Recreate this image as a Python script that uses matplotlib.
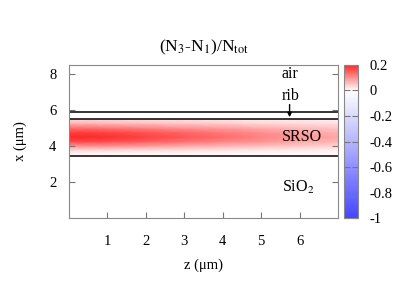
import matplotlib
matplotlib.use('Agg')
import matplotlib.pyplot as plt
import numpy as np
from matplotlib.colors import LinearSegmentedColormap, Normalize

plt.rcParams['font.family'] = ['Liberation Serif', 'DejaVu Serif']
plt.rcParams['font.size'] = 10.5
plt.rcParams['mathtext.fontset'] = 'stix'

# grid (z across, x up)
z = [0, 0.5, 1, 2, 3, 4, 5, 6, 7]
x = [3.5, 3.75, 4.0, 4.25, 4.5, 4.75, 5.0, 5.25, 5.5]
ratio = [
    [0.000, 0.000, 0.000, 0.000, 0.000, 0.000, 0.000, 0.000, 0.000],
    [0.030, 0.030, 0.030, 0.026, 0.023, 0.020, 0.017, 0.014, 0.012],
    [0.100, 0.100, 0.098, 0.088, 0.078, 0.068, 0.058, 0.048, 0.040],
    [0.170, 0.170, 0.166, 0.149, 0.132, 0.115, 0.098, 0.081, 0.068],
    [0.200, 0.200, 0.195, 0.175, 0.155, 0.135, 0.115, 0.095, 0.080],
    [0.180, 0.180, 0.176, 0.158, 0.140, 0.122, 0.104, 0.086, 0.072],
    [0.130, 0.130, 0.127, 0.114, 0.101, 0.088, 0.075, 0.062, 0.052],
    [0.070, 0.070, 0.068, 0.061, 0.054, 0.047, 0.040, 0.033, 0.028],
    [0.030, 0.030, 0.030, 0.026, 0.023, 0.020, 0.017, 0.014, 0.012],
]

layers = [5.9, 5.5, 3.45]
labels = ['air', 'rib', 'SRSO', 'SiO$_2$']
label_x = [8.0, 6.8, 4.5, 1.7]
cb_ticks = [0.2, 0, -0.2, -0.4, -0.6, -0.8, -1]

cmap = LinearSegmentedColormap.from_list(
    'bwr2', [(0.0, '#4646ff'), (1 / 1.2, '#ffffff'), (1.0, '#ff2a2a')])
norm = Normalize(vmin=-1, vmax=0.2)

fig = plt.figure(figsize=(4.07, 2.85), dpi=100)
ax = fig.add_axes([0.1695, 0.235, 0.661, 0.537])
cax = fig.add_axes([0.845, 0.235, 0.0344, 0.537])

Z, X = np.meshgrid(z, x)
ax.pcolormesh(Z, X, np.array(ratio), cmap=cmap, norm=norm, shading='gouraud')

for h in layers:
    ax.axhline(h, color='black', lw=1.1)

for t, y in zip(labels, label_x):
    ax.text(5.53, y, t, fontsize=11.5, va='center', ha='left')
ax.annotate('', xy=(5.74, 5.6), xytext=(5.74, 6.3),
            arrowprops=dict(arrowstyle='-|>', color='black', lw=1.0,
                            mutation_scale=6, shrinkA=0, shrinkB=0))

ax.set_xlim(0, 7)
ax.set_ylim(0, 8.5)
ax.set_xticks([1, 2, 3, 4, 5, 6])
ax.set_yticks([2, 4, 6, 8])
ax.tick_params(direction='in', length=4, color='#777777', right=True,
               top=False)
ax.tick_params(axis='x', pad=12)
ax.tick_params(axis='y', pad=9)
for s in ax.spines.values():
    s.set_color('#888888')

ax.set_title('(N$_3$-N$_1$)/N$_{\\mathrm{tot}}$', pad=10)
ax.set_xlabel('z (\u03bcm)', labelpad=8)
ax.set_ylabel('x (\u03bcm)', labelpad=16)

sm = plt.cm.ScalarMappable(cmap=cmap, norm=norm)
cb = fig.colorbar(sm, cax=cax, ticks=cb_ticks)
cb.ax.set_yticklabels(['0.2', '0', '-0.2', '-0.4', '-0.6', '-0.8', '-1'])
cb.ax.tick_params(direction='in', length=4, color='#777777', left=True,
                  right=True, pad=8)
cb.outline.set_edgecolor('#888888')

fig.savefig('out.png', dpi=100)
